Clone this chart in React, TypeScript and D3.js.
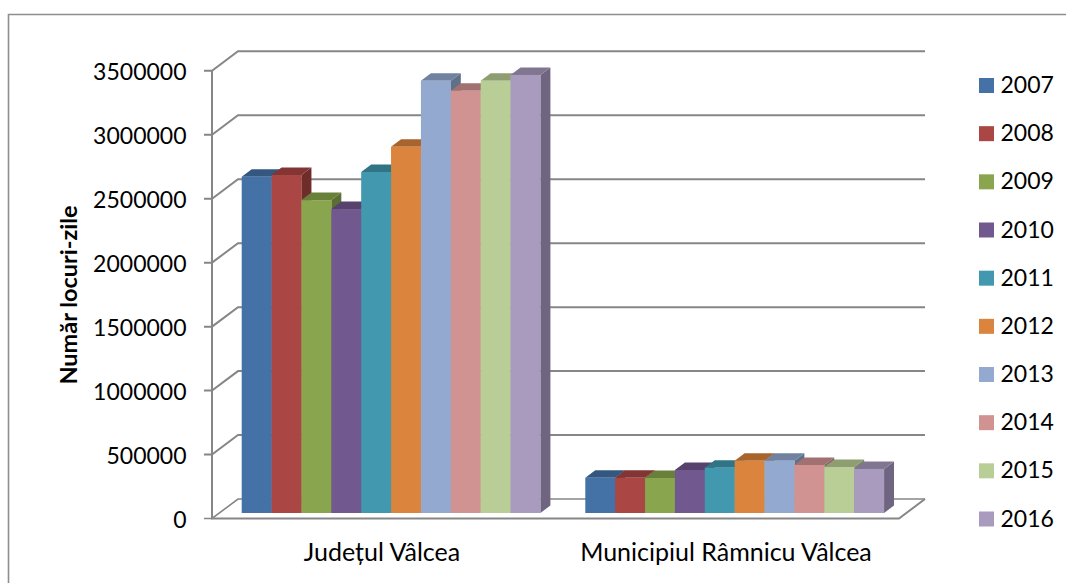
import React from "react";
import * as d3 from "d3";

const categories = ["Județul Vâlcea", "Municipiul Râmnicu Vâlcea"];
const years = ["2007","2008","2009","2010","2011","2012","2013","2014","2015","2016"];
const judet = [2633000,2647000,2450000,2380000,2670000,2868000,3385000,3307000,3385000,3430000];
const municipiu = [276000,276000,274000,337000,355000,410000,410000,376000,360000,345000];
const seriesValues = [judet, municipiu];
const ticks = [0,500000,1000000,1500000,2000000,2500000,3000000,3500000];
const front = ["#4471A6","#AA4644","#89A54E","#71588F","#4198AF","#DB843D","#93A9CF","#D19392","#B9CD96","#A99BBD"];
const topCol = ["#34577F","#823533","#69803B","#56426D","#317486","#A7642D","#7082A0","#A07170","#8E9D72","#817691"];
const sideCol = ["#2E4C70","#6E2D2B","#5B6F33","#4A395E","#2A6474","#905626","#607089","#8A6160","#7A8863","#6F6580"];

const FONT = "Lato, Carlito, sans-serif";
const GRID = "#868686";
const DX = 26, DY = -19.5;

export default function App() {
  const y = d3.scaleLinear().domain([0, 3500000]).range([518.5, 70.8]);
  const yBar = d3.scaleLinear().domain([0, 3500000]).range([513, 66]);
  const starts = [241.7, 585.3];
  const groupX = d3.scaleOrdinal<number, number>().domain([0, 1]).range(starts);
  const barW = 29.87;
  const bx = 10, by = -7.5;
  const legendY = d3.scalePoint().domain(years).range([85.5, 519]);
  return (
    <svg width={1066} height={583} style={{ position: "absolute", left: 0, top: 0, background: "#fff" }}>
      <path d="M8.5 583V14.5H1066" fill="none" stroke="#8E8E8E" strokeWidth={1.6} />
      {ticks.map((t) => (
        <path key={t} d={`M204 ${y(t)}H${212} L${212 + DX} ${y(t) + DY}H925`} fill="none" stroke={GRID} strokeWidth={t === 0 ? 1.6 : 2} />
      ))}
      <path d={`M212 ${y(3500000)}V${y(0)}H${925 - DX} L925 ${y(0) + DY}`} fill="none" stroke={GRID} strokeWidth={2} />
      {seriesValues.map((vals, g) => (
        <g key={g}>
          {vals.map((v, i) => {
            const x = groupX(g) + i * barW;
            const yt = yBar(v), y0 = yBar(0);
            return (
              <g key={i}>
                <path d={`M${x + barW} ${y0}v${-(y0 - yt)}l${bx} ${by}v${y0 - yt}z`} fill={sideCol[i]} />
                <path d={`M${x} ${yt}l${bx} ${by}h${barW}l${-bx} ${-by}z`} fill={topCol[i]} />
              </g>
            );
          })}
          {vals.map((v, i) => {
            const x = groupX(g) + i * barW;
            return <rect key={i} x={x} y={yBar(v)} width={barW + 0.2} height={yBar(0) - yBar(v)} fill={front[i]} />;
          })}
        </g>
      ))}
      {ticks.map((t) => (
        <text key={t} x={186.5} y={y(t) + 9} textAnchor="end" fontFamily={FONT} fontSize={23} fill="#000">{t}</text>
      ))}
      <text transform="translate(77,295) rotate(-90)" textAnchor="middle" fontFamily={FONT} fontSize={23.5} fontWeight={700} fill="#000">Număr locuri-zile</text>
      <text x={382} y={561} textAnchor="middle" fontFamily={FONT} fontSize={25} fill="#000">{categories[0]}</text>
      <text x={726} y={561} textAnchor="middle" fontFamily={FONT} fontSize={25} fill="#000">{categories[1]}</text>
      {years.map((yr, i) => (
        <g key={yr}>
          <rect x={979} y={legendY(yr)! - 7.5} width={15} height={15} fill={front[i]} />
          <text x={1000.5} y={legendY(yr)! + 7.5} fontFamily={FONT} fontSize={23} fill="#000">{yr}</text>
        </g>
      ))}
    </svg>
  );
}
